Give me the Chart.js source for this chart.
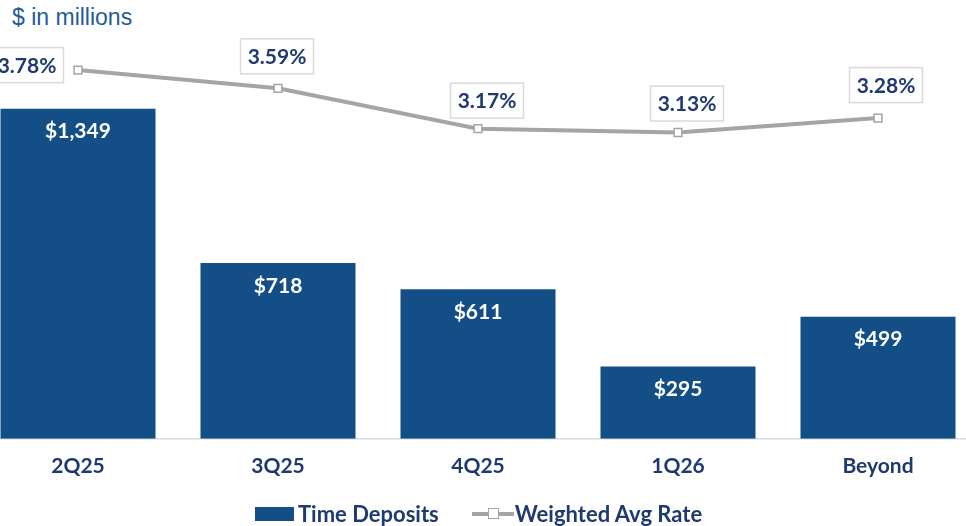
<!DOCTYPE html>
<html>
<head>
<meta charset="utf-8">
<script src="https://cdn.jsdelivr.net/npm/chart.js@4.4.0/dist/chart.umd.min.js"></script>
<style>
  html, body { margin: 0; padding: 0; background: #fff; overflow: hidden; }
  body { width: 966px; height: 526px; position: relative; font-family: Lato, "Open Sans", sans-serif; }
  .units { position: absolute; left: 12px; top: 4px; font: 23px "Liberation Sans", Arial, sans-serif; color: #1F5C99; }
  .chart-wrap { position: absolute; left: -22px; top: 0; width: 1000px; height: 526px; }
  .legend { position: absolute; top: 500px; left: 255px; display: flex; align-items: center; font-weight: 700; font-size: 22px; color: #1F3A70; }
  .legend-item { display: flex; align-items: center; }
  .swatch-bar { width: 39px; height: 14px; background: #134F86; margin-right: 4px; }
  .swatch-line { position: relative; width: 42px; height: 14px; margin-left: 33px; margin-right: 1px; }
  .swatch-line .ln { position: absolute; left: 0; right: 0; top: 5px; height: 4px; background: #A5A5A5; }
  .swatch-line .sq { position: absolute; left: 16px; top: 1px; width: 9px; height: 9px; background: #fff; border: 1.5px solid #A5A5A5; }
</style>
</head>
<body>
<div class="units">$ in millions</div>
<div class="chart-wrap"><canvas id="chart"></canvas></div>
<div class="legend">
  <div class="legend-item"><div class="swatch-bar"></div><span>Time Deposits</span></div>
  <div class="legend-item"><div class="swatch-line"><div class="ln"></div><div class="sq"></div></div><span>Weighted Avg Rate</span></div>
</div>
<script>
// ===== DATA =====
const categories = ['2Q25', '3Q25', '4Q25', '1Q26', 'Beyond'];
const timeDeposits = [1349, 718, 611, 295, 499];
const avgRates = [3.78, 3.59, 3.17, 3.13, 3.28];

// label placement for the rate boxes (dx, dy from point)
const rateLabelOffsets = [[-51, -5], [-1, -32], [9, -28], [9, -29], [8, -33]];

const NAVY = '#1F3A70';
const BAR = '#134F86';
const GRAY = '#A5A5A5';

const labelPlugin = {
  id: 'valueLabels',
  afterDatasetsDraw(chart) {
    const ctx = chart.ctx;
    ctx.save();
    ctx.font = 'bold 21px Lato, "Open Sans", sans-serif';
    ctx.textAlign = 'center';
    ctx.textBaseline = 'middle';

    // bar values inside the top of each bar
    chart.getDatasetMeta(1).data.forEach((bar, i) => {
      ctx.fillStyle = '#fff';
      ctx.fillText('$' + timeDeposits[i].toLocaleString('en-US'), bar.x, bar.y + 23);
    });

    // rate values in boxes above each point
    chart.getDatasetMeta(0).data.forEach((pt, i) => {
      const text = avgRates[i].toFixed(2) + '%';
      const [dx, dy] = rateLabelOffsets[i];
      const cx = pt.x + dx, cy = pt.y + dy;
      const w = 73, h = 35;
      ctx.fillStyle = '#fff';
      ctx.fillRect(cx - w / 2, cy - h / 2, w, h);
      ctx.strokeStyle = '#D9D9D9';
      ctx.lineWidth = 1.5;
      ctx.strokeRect(cx - w / 2, cy - h / 2, w, h);
      ctx.fillStyle = NAVY;
      ctx.fillText(text, cx, cy + 1);
    });
    ctx.restore();
  },
};

new Chart(document.getElementById('chart'), {
  data: {
    labels: categories,
    datasets: [
      {
        type: 'line',
        label: 'Weighted Avg Rate',
        data: avgRates,
        yAxisID: 'y2',
        order: 0,
        borderColor: GRAY,
        borderWidth: 4,
        tension: 0,
        pointStyle: 'rect',
        pointRadius: 5.5,
        pointBackgroundColor: '#fff',
        pointBorderColor: GRAY,
        pointBorderWidth: 1.5,
      },
      {
        type: 'bar',
        label: 'Time Deposits',
        data: timeDeposits,
        yAxisID: 'y',
        order: 1,
        backgroundColor: BAR,
        categoryPercentage: 1,
        barPercentage: 0.775,
      },
    ],
  },
  options: {
    responsive: true,
    maintainAspectRatio: false,
    animation: false,
    layout: { autoPadding: false, padding: { top: 0, left: 0, right: 0, bottom: 32 } },
    plugins: { legend: { display: false }, tooltip: { enabled: false } },
    scales: {
      x: {
        grid: { display: false, drawTicks: false },
        border: { display: true, color: '#D9D9D9', width: 1.5 },
        ticks: { padding: 15, color: NAVY, font: { family: 'Lato', size: 21, weight: 'bold' } },
      },
      y: { display: false, min: 0, max: 1793 },
      y2: { display: false, min: -0.06, max: 4.51 },
    },
  },
  plugins: [labelPlugin],
});
</script>
</body>
</html>
